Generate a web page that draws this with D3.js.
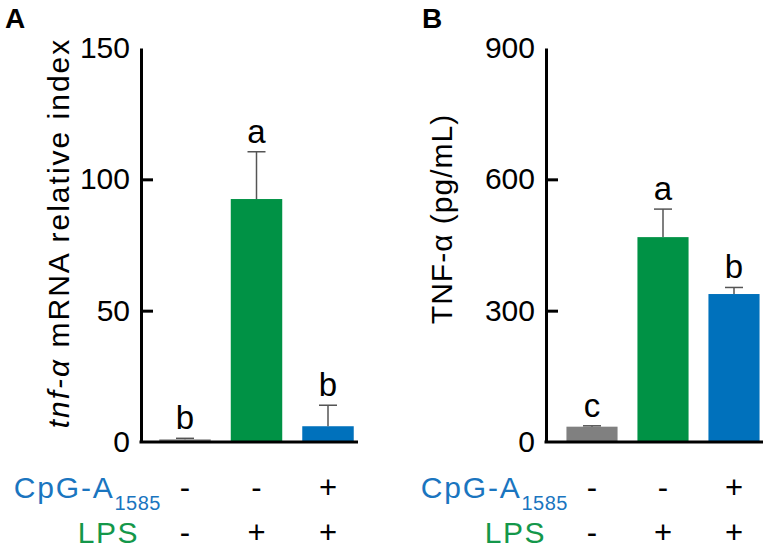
<!DOCTYPE html>
<html><head><meta charset="utf-8">
<script src="https://cdn.jsdelivr.net/npm/d3@7"></script>
<style>body{margin:0;background:#fff}svg{display:block;font-family:"Liberation Sans",Arial,sans-serif}</style>
</head><body><svg id="c" width="768" height="553"></svg>
<script>
const groups = ["ctrl","lps","cpg_lps"];
const cpgSigns = ["-","-","+"];
const lpsSigns = ["-","+","+"];
const mrnaMean = [1, 92.5, 6];
const mrnaErr = [0.4, 18, 8];
const mrnaLetters = ["b","a","b"];
const mrnaTicks = [0, 50, 100, 150];
const tnfMean = [35, 468, 338];
const tnfErr = [2, 64, 15];
const tnfLetters = ["c","a","b"];
const tnfTicks = [0, 300, 600, 900];
const barColors = ["#808080","#009245","#0071bc"];
const blueText = "#1a75bf", greenText = "#14974a";

const svg = d3.select("#c");

function panel(opt){
  const g = svg.append("g");
  const y = d3.scaleLinear().domain([0, opt.max]).range([442, 48]);
  const x = d3.scaleBand().domain(groups).range(opt.xr).paddingInner(0.28).paddingOuter(0.14);
  g.selectAll("rect.bar").data(groups).join("rect")
    .attr("x", d => x(d)).attr("width", x.bandwidth())
    .attr("y", (d,i) => y(opt.mean[i])).attr("height", (d,i) => y(0) - y(opt.mean[i]))
    .attr("fill", (d,i) => barColors[i]);
  const eg = g.selectAll("g.err").data(groups).join("g");
  eg.append("line").attr("x1", d => x(d)+x.bandwidth()/2).attr("x2", d => x(d)+x.bandwidth()/2)
    .attr("y1", (d,i) => y(opt.mean[i])).attr("y2", (d,i) => y(opt.mean[i]+opt.err[i]))
    .attr("stroke", "#555").attr("stroke-width", 1.5);
  eg.append("line").attr("x1", d => x(d)+x.bandwidth()/2-9).attr("x2", d => x(d)+x.bandwidth()/2+9)
    .attr("y1", (d,i) => y(opt.mean[i]+opt.err[i])).attr("y2", (d,i) => y(opt.mean[i]+opt.err[i]))
    .attr("stroke", "#555").attr("stroke-width", 1.5);
  g.selectAll("text.let").data(groups).join("text")
    .attr("x", d => x(d)+x.bandwidth()/2)
    .attr("y", (d,i) => y(opt.mean[i]+opt.err[i]) - 9)
    .attr("text-anchor","middle").attr("font-size", 33).attr("fill","#000")
    .text((d,i) => opt.letters[i]);
  const ax = d3.axisLeft(y).tickValues(opt.ticks).tickSizeInner(-12).tickSizeOuter(0).tickPadding(11);
  const ag = g.append("g").attr("transform", `translate(${opt.ax},0)`).call(ax);
  ag.select(".domain").attr("stroke","#000").attr("stroke-width",3);
  ag.selectAll(".tick line").attr("stroke","#000").attr("stroke-width",3)
    .attr("x2", d => (d === 0 || d === opt.max) ? 0 : 12);
  ag.selectAll(".tick text").attr("font-size", 30).attr("fill","#000")
    .attr("font-family","'Liberation Sans',Arial,sans-serif");
  g.append("line").attr("x1", opt.ax-1.5).attr("x2", opt.xEnd).attr("y1", y(0)).attr("y2", y(0))
    .attr("stroke","#000").attr("stroke-width",3);
  const t = g.append("text").attr("transform", `translate(${opt.tx},${opt.ty}) rotate(-90)`)
    .attr("text-anchor","middle").attr("font-size", 30).attr("letter-spacing", opt.ls).attr("fill","#000");
  opt.title(t);
  g.selectAll("text.s1").data(groups).join("text")
    .attr("x", d => x(d)+x.bandwidth()/2).attr("y", 498)
    .attr("text-anchor","middle").attr("font-size", 31).attr("fill","#000")
    .text((d,i) => cpgSigns[i]);
  g.selectAll("text.s2").data(groups).join("text")
    .attr("x", d => x(d)+x.bandwidth()/2).attr("y", 543)
    .attr("text-anchor","middle").attr("font-size", 31).attr("fill","#000")
    .text((d,i) => lpsSigns[i]);
  const c = g.append("text").attr("x", opt.cpgX).attr("y", 498).attr("text-anchor","end")
    .attr("font-size", 30).attr("letter-spacing", 1.8).attr("fill", blueText);
  c.append("tspan").text("CpG-A");
  c.append("tspan").attr("font-size", 20).attr("letter-spacing", 0.5).attr("dy", 12).text("1585");
  g.append("text").attr("x", opt.lpsX).attr("y", 543).attr("text-anchor","end")
    .attr("font-size", 30).attr("letter-spacing", 1.5).attr("fill", greenText).text("LPS");
  g.append("text").attr("x", opt.lx).attr("y", 28).attr("font-size", 28).attr("font-weight","bold")
    .attr("fill","#000").text(opt.label);
}

panel({max:150, mean:mrnaMean, err:mrnaErr, letters:mrnaLetters, ticks:mrnaTicks,
  xr:[149.25, 363.75], ax:141, xEnd:358, tx:69, ty:233, ls:2,
  title: t => { t.append("tspan").attr("font-style","italic").text("tnf-α"); t.append("tspan").text(" mRNA relative index"); },
  cpgX:161, lpsX:139, label:"A", lx:5});

panel({max:900, mean:tnfMean, err:tnfErr, letters:tnfLetters, ticks:tnfTicks,
  xr:[556.5, 769.5], ax:546, xEnd:763, tx:452, ty:219, ls:1,
  title: t => { t.text("TNF-α (pg/mL)"); },
  cpgX:568, lpsX:546, label:"B", lx:422});
</script></body></html>
